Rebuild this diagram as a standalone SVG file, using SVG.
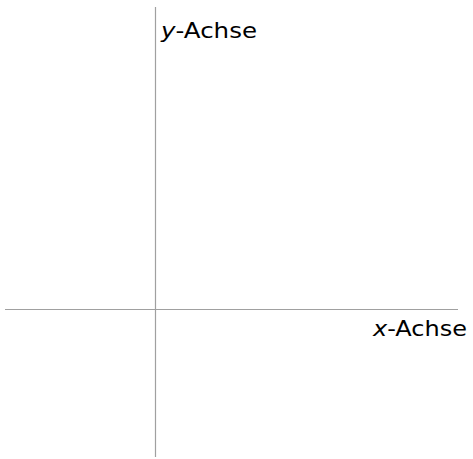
<svg xmlns="http://www.w3.org/2000/svg" width="473" height="459" viewBox="0 0 473 459">
<style>
.axis{stroke:#a0a0a0;stroke-width:1.2;fill:none}
.lbl{font-family:"DejaVu Sans","Liberation Sans",sans-serif;font-size:21px;fill:#000}
.v{font-style:italic}
</style>
<rect width="473" height="459" fill="#fff"/>
<g id="connectors">
<line class="axis" x1="5" y1="309.5" x2="458" y2="309.5"/>
<line class="axis" x1="155.5" y1="7" x2="155.5" y2="457"/>
</g>
<g id="y-label"><text class="lbl" x="161" y="37.5" textLength="96" lengthAdjust="spacingAndGlyphs"><tspan class="v">y</tspan>-Achse</text></g>
<g id="x-label"><text class="lbl" x="373" y="336" textLength="94" lengthAdjust="spacingAndGlyphs"><tspan class="v">x</tspan>-Achse</text></g>
</svg>
